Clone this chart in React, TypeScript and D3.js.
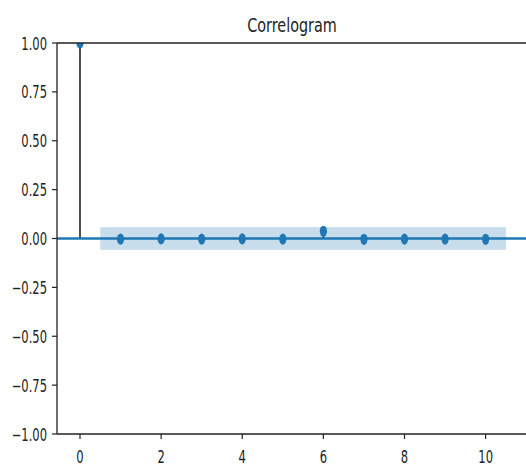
import { useEffect, useRef } from "react"
import * as d3 from "d3"

// autocorrelation values per lag
const lags = [0, 1, 2, 3, 4, 5, 6, 7, 8, 9, 10]
const acfValues = [1, -0.003, -0.002, -0.003, -0.002, -0.003, 0.037, -0.004, -0.003, -0.003, -0.004]
const confBand = [-0.058, 0.058]
const xTicks = [0, 2, 4, 6, 8, 10]
const yTicks = [-1, -0.75, -0.5, -0.25, 0, 0.25, 0.5, 0.75, 1]
const title = "Correlogram"

const width = 526
const height = 469
const margin = { top: 43, right: -1, bottom: 35, left: 57 }
const squish = 0.66 // the picture is horizontally compressed
const blue = "#1f77b4"

export default function App() {
  const svgRef = useRef<SVGSVGElement>(null)

  useEffect(() => {
    if (!svgRef.current) return
    const root = d3.select(svgRef.current)
    root.selectAll("*").remove()

    const x = d3
      .scaleLinear()
      .domain([-0.567, 11.02])
      .range([margin.left, width - margin.right])
    const y = d3
      .scaleLinear()
      .domain([-1, 1])
      .range([height - margin.bottom, margin.top])

    root
      .append("defs")
      .append("clipPath")
      .attr("id", "plot-clip")
      .append("rect")
      .attr("x", margin.left)
      .attr("y", margin.top)
      .attr("width", width - margin.right - margin.left)
      .attr("height", height - margin.bottom - margin.top)

    const plot = root.append("g").attr("clip-path", "url(#plot-clip)")

    // stems
    plot
      .selectAll("line.stem")
      .data(lags)
      .enter()
      .append("line")
      .attr("class", "stem")
      .attr("x1", (d) => x(d))
      .attr("x2", (d) => x(d))
      .attr("y1", y(0))
      .attr("y2", (d, i) => y(acfValues[i]))
      .attr("stroke", "#222")
      .attr("stroke-width", 1.6)

    // zero line
    plot
      .append("line")
      .attr("x1", margin.left)
      .attr("x2", width)
      .attr("y1", y(0))
      .attr("y2", y(0))
      .attr("stroke", blue)
      .attr("stroke-width", 2.6)

    // confidence band
    plot
      .append("rect")
      .attr("x", x(0.5))
      .attr("width", x(10.5) - x(0.5))
      .attr("y", y(confBand[1]))
      .attr("height", y(confBand[0]) - y(confBand[1]))
      .attr("fill", blue)
      .attr("fill-opacity", 0.25)

    // markers
    plot
      .selectAll("ellipse")
      .data(lags)
      .enter()
      .append("ellipse")
      .attr("cx", (d) => x(d))
      .attr("cy", (d, i) => y(acfValues[i]))
      .attr("rx", 3.6)
      .attr("ry", 5.6)
      .attr("fill", blue)

    // spines
    const spine = root.append("g").attr("stroke", "#222").attr("stroke-width", 1.3).attr("fill", "none")
    spine.append("line").attr("x1", margin.left).attr("x2", margin.left).attr("y1", y(1)).attr("y2", y(-1))
    spine.append("line").attr("x1", margin.left).attr("x2", width).attr("y1", y(1)).attr("y2", y(1))
    spine.append("line").attr("x1", margin.left).attr("x2", width).attr("y1", y(-1)).attr("y2", y(-1))

    const font = "'DejaVu Sans', sans-serif"

    // y axis
    const yAxis = root.append("g")
    yAxis
      .selectAll("line")
      .data(yTicks)
      .enter()
      .append("line")
      .attr("x1", margin.left - 5)
      .attr("x2", margin.left)
      .attr("y1", (d) => y(d))
      .attr("y2", (d) => y(d))
      .attr("stroke", "#222")
      .attr("stroke-width", 1.2)
    yAxis
      .selectAll("text")
      .data(yTicks)
      .enter()
      .append("text")
      .attr("transform", (d) => `translate(${margin.left - 10},${y(d) + 6.5}) scale(${squish},1)`)
      .attr("text-anchor", "end")
      .attr("font-family", font)
      .attr("font-size", 17.5)
      .attr("fill", "#222")
      .text((d) => d3.format(".2f")(d).replace("-", "\u2212"))

    // x axis
    const xAxis = root.append("g")
    xAxis
      .selectAll("line")
      .data(xTicks)
      .enter()
      .append("line")
      .attr("x1", (d) => x(d))
      .attr("x2", (d) => x(d))
      .attr("y1", y(-1))
      .attr("y2", y(-1) + 5)
      .attr("stroke", "#222")
      .attr("stroke-width", 1.2)
    xAxis
      .selectAll("text")
      .data(xTicks)
      .enter()
      .append("text")
      .attr("transform", (d) => `translate(${x(d)},${y(-1) + 29}) scale(${squish},1)`)
      .attr("text-anchor", "middle")
      .attr("font-family", font)
      .attr("font-size", 17.5)
      .attr("fill", "#222")
      .text((d) => String(d))

    // title
    root
      .append("text")
      .attr("transform", `translate(${(margin.left + width + 1) / 2},32) scale(0.72,1)`)
      .attr("text-anchor", "middle")
      .attr("font-family", font)
      .attr("font-size", 20)
      .attr("fill", "#222")
      .text(title)
  }, [])

  return (
    <svg
      ref={svgRef}
      width={width}
      height={height}
      style={{ position: "absolute", left: 0, top: 0, background: "#fff" }}
    ></svg>
  )
}
